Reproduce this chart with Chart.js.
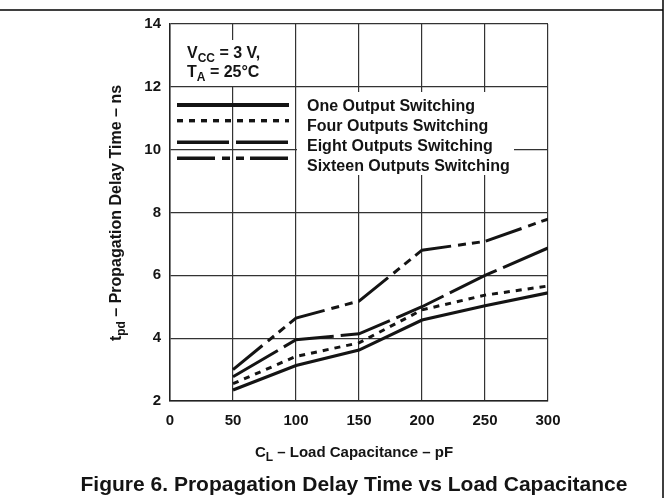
<!DOCTYPE html>
<html>
<head>
<meta charset="utf-8">
<script src="https://cdn.jsdelivr.net/npm/chart.js@4.4.1/dist/chart.umd.min.js"></script>
<style>
  html, body { margin: 0; padding: 0; background: #fff; }
  canvas { display: block; }
</style>
</head>
<body>
<canvas id="c" width="669" height="498" style="width:669px;height:498px"></canvas>
<script>
// ---- data ----
const loadCapacitance = [50, 100, 150, 200, 250, 300];          // pF
const oneOutput       = [2.35, 3.13, 3.62, 4.58, 5.03, 5.44];   // ns
const fourOutputs     = [2.55, 3.42, 3.85, 4.90, 5.37, 5.66];
const eightOutputs    = [2.77, 3.95, 4.14, 5.00, 6.00, 6.87];
const sixteenOutputs  = [3.00, 4.64, 5.18, 6.80, 7.08, 7.79];
const seriesLabels = ['One Output Switching', 'Four Outputs Switching',
                      'Eight Outputs Switching', 'Sixteen Outputs Switching'];
const xRange = [0, 300], xStep = 50;
const yRange = [2, 14], yStep = 2;

const FONT = '"Liberation Sans", Arial, Helvetica, sans-serif';
const INK = '#141414';

function pts(vals) { return loadCapacitance.map((x, i) => ({ x: x, y: vals[i] })); }

const styles = [
  { w: 3.2, dash: [] },
  { w: 3,   dash: [6, 6] },
  { w: 3,   dash: [52, 7] },
  { w: 3,   dash: [38, 7, 8, 6, 8, 6] }
];
const seriesValues = [oneOutput, fourOutputs, eightOutputs, sixteenOutputs];

const datasets = seriesValues.map((v, i) => ({
  label: seriesLabels[i],
  data: pts(v),
  borderColor: INK,
  backgroundColor: INK,
  borderWidth: styles[i].w,
  borderDash: styles[i].dash,
  borderCapStyle: 'butt',
  borderJoinStyle: 'miter',
  pointRadius: 0,
  tension: 0,
  fill: false
}));

// draw text made of parts (for subscripts)
function richWidth(ctx, parts) {
  let w = 0;
  for (const p of parts) { ctx.font = 'bold ' + p.s + 'px ' + FONT; w += ctx.measureText(p.t).width; }
  return w;
}
function drawRich(ctx, parts, x, y, align) {
  const w = richWidth(ctx, parts);
  let cx = align === 'center' ? x - w / 2 : x;
  ctx.textBaseline = 'alphabetic';
  ctx.textAlign = 'left';
  for (const p of parts) {
    ctx.font = 'bold ' + p.s + 'px ' + FONT;
    ctx.fillText(p.t, cx, y + (p.dy || 0));
    cx += ctx.measureText(p.t).width;
  }
}

const decor = {
  id: 'decor',
  beforeDraw(chart) {
    const ctx = chart.ctx;
    ctx.save();
    ctx.fillStyle = '#fff';
    ctx.fillRect(0, 0, chart.width, chart.height);
    ctx.restore();
  },
  afterDraw(chart) {
    const ctx = chart.ctx;
    ctx.save();
    // white boxes behind annotation and legend text
    ctx.fillStyle = '#fff';
    ctx.fillRect(183, 40, 90, 46);
    ctx.fillRect(297, 92, 217, 83);

    ctx.fillStyle = INK;
    // condition annotation
    drawRich(ctx, [{ t: 'V', s: 16 }, { t: 'CC', s: 12, dy: 4 }, { t: ' = 3 V,', s: 16 }], 187, 58, 'left');
    drawRich(ctx, [{ t: 'T', s: 16 }, { t: 'A', s: 12, dy: 4 }, { t: ' = 25°C', s: 16 }], 187, 77, 'left');

    // legend
    const lineY = [105, 120.7, 142.3, 158.3];
    const textY = [107, 127, 147, 166.5];
    chart.data.datasets.forEach((ds, i) => {
      ctx.save();
      ctx.strokeStyle = ds.borderColor;
      ctx.lineWidth = i === 0 ? 4 : 3.4;
      ctx.setLineDash(ds.borderDash);
      ctx.lineCap = 'butt';
      ctx.beginPath();
      ctx.moveTo(177, lineY[i]);
      ctx.lineTo(289, lineY[i]);
      ctx.stroke();
      ctx.restore();
      ctx.font = 'bold 16px ' + FONT;
      ctx.textAlign = 'left';
      ctx.textBaseline = 'middle';
      ctx.fillText(ds.label, 307, textY[i]);
    });

    // axis titles
    drawRich(ctx, [{ t: 'C', s: 15 }, { t: 'L', s: 12, dy: 4 }, { t: ' – Load Capacitance – pF', s: 15 }], 354, 457, 'center');
    ctx.save();
    ctx.translate(121, 213);
    ctx.rotate(-Math.PI / 2);
    drawRich(ctx, [{ t: 't', s: 16 }, { t: 'pd', s: 12, dy: 4 }, { t: ' – Propagation Delay Time – ns', s: 16 }], 0, 0, 'center');
    ctx.restore();

    // figure caption
    ctx.font = 'bold 21px ' + FONT;
    ctx.textAlign = 'center';
    ctx.textBaseline = 'alphabetic';
    ctx.fillText('Figure 6. Propagation Delay Time vs Load Capacitance', 354, 491);

    // outer frame lines
    ctx.strokeStyle = '#000';
    ctx.lineWidth = 1.5;
    ctx.beginPath();
    ctx.moveTo(0, 10); ctx.lineTo(663, 10);
    ctx.moveTo(663, 0); ctx.lineTo(663, 498);
    ctx.stroke();
    ctx.restore();
  }
};

new Chart(document.getElementById('c'), {
  type: 'line',
  data: { datasets: datasets },
  options: {
    responsive: false,
    animation: false,
    devicePixelRatio: 1,
    layout: { padding: { left: 0, top: 24, right: 121, bottom: 0 } },
    plugins: { legend: { display: false }, tooltip: { enabled: false }, title: { display: false } },
    scales: {
      x: {
        type: 'linear',
        min: xRange[0], max: xRange[1],
        ticks: { stepSize: xStep, color: INK, font: { family: FONT, size: 15, weight: 'bold' }, padding: 11, maxRotation: 0 },
        grid: { color: '#333', lineWidth: 1.2, drawTicks: false },
        border: { display: true, color: '#222', width: 1.5 },
        afterFit(scale) { scale.height = 97; }
      },
      y: {
        type: 'linear',
        min: yRange[0], max: yRange[1],
        ticks: { stepSize: yStep, color: INK, font: { family: FONT, size: 15, weight: 'bold' }, padding: 9 },
        grid: { color: '#333', lineWidth: 1.2, drawTicks: false },
        border: { display: true, color: '#222', width: 1.5 },
        afterFit(scale) { scale.width = 170; }
      }
    }
  },
  plugins: [decor]
});
</script>
</body>
</html>
